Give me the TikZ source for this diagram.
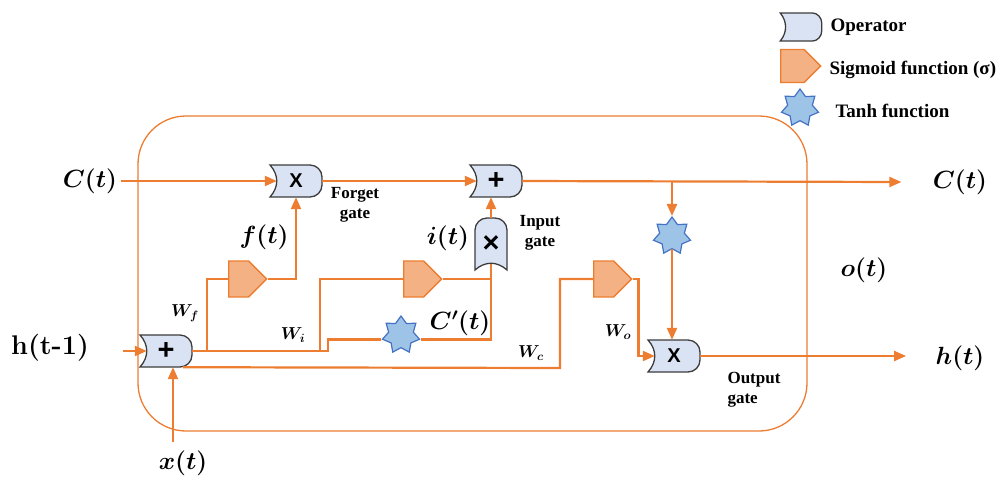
\documentclass[tikz,border=0pt]{standalone}
\usepackage{amsmath}
\usepackage{bm}
\usepackage{fontspec}
\newfontfamily\timesfont{Liberation Serif}
\newfontfamily\arialfont{Liberation Sans}
\usetikzlibrary{arrows.meta,shapes.geometric,shapes.symbols}
\definecolor{lorange}{RGB}{237,125,49}
\definecolor{sigfill}{RGB}{244,177,131}
\definecolor{opfill}{RGB}{218,227,243}
\definecolor{opdraw}{RGB}{60,60,60}
\definecolor{tanhfill}{RGB}{157,195,230}
\definecolor{tanhdraw}{RGB}{68,114,196}

% operator outline: concave back, round front
\newcommand{\opgate}[5]{%
  \begin{scope}[shift={#2},#3]
    \draw[opshape] (-26,-16) -- (14,-16) .. controls (20.6,-16) and (26,-10.6) .. (26,-4)
      -- (26,4) .. controls (26,10.6) and (20.6,16) .. (14,16) -- (-26,16)
      .. controls (-17,6) and (-17,-6) .. (-26,-16) -- cycle;
  \end{scope}
  \node[opsym,#4] (#1) at #2 {#5};}

\begin{document}
\begin{tikzpicture}[x=1pt, y=-1pt,
    line/.style={draw=lorange, line width=2.2pt},
    arr/.style={line, -{Triangle[length=12pt,width=10pt]}},
    cellbox/.style={draw=lorange, line width=1.3pt, rounded corners=48pt},
    opshape/.style={draw=opdraw, fill=opfill, line width=1.3pt},
    opsym/.style={inner sep=0pt, minimum width=52pt, minimum height=32pt,
                  font=\arialfont\bfseries\fontsize{20}{24}\selectfont},
    bigsym/.style={font=\arialfont\bfseries\fontsize{29}{30}\selectfont},
    sigbox/.style={signal, signal to=east, signal pointer angle=90, anchor=west,
                   draw=lorange, fill=sigfill, line width=1.3pt, inner sep=0pt,
                   minimum width=38pt, minimum height=36pt},
    tanhstar/.style={star, star points=7, star point ratio=1.5, inner sep=0pt,
                     minimum size=38pt, draw=tanhdraw, fill=tanhfill, line width=1.2pt},
    mlbl/.style={font=\fontsize{25}{30}\selectfont},
    wlbl/.style={font=\fontsize{18}{22}\selectfont},
    gatelbl/.style={font=\timesfont\bfseries\fontsize{17}{20}\selectfont, align=center},
    leglbl/.style={font=\timesfont\bfseries\fontsize{19}{22}\selectfont, anchor=west}]

  \useasboundingbox (0,0) rectangle (1005,480);

  % cell border
  \draw[cellbox] (138,116) rectangle (807,431);

  % operators
  \opgate{hop}{(166,351)}{}{bigsym}{+}
  \opgate{fop}{(296,181)}{}{}{X}
  \opgate{iop}{(496,181)}{}{bigsym}{+}
  \opgate{imul}{(491,244)}{rotate=90}{bigsym, minimum width=32pt, minimum height=52pt}{×}
  \opgate{oop}{(674,356)}{}{}{X}

  % sigmoid and tanh blocks
  \node[sigbox] (sf) at (228,279) {};
  \node[sigbox] (si) at (403,279) {};
  \node[sigbox] (so) at (593,279) {};
  \node[tanhstar] (tc) at (401,335) {};
  \node[tanhstar] (to) at (672,236) {};

  % labels
  \node[mlbl] (cin)  at (90,181)  {$\bm{C(t)}$};
  \node[mlbl] (cout) at (960,182) {$\bm{C(t)}$};
  \node[mlbl] (hout) at (960,358) {$\bm{h(t)}$};
  \node[mlbl] (ot)   at (864,270) {$\bm{o(t)}$};
  \node[mlbl] (xin)  at (183,463) {$\bm{x(t)}$};
  \node[mlbl] (ft)   at (264,237) {$\bm{f(t)}$};
  \node[mlbl] (it)   at (448,238) {$\bm{i(t)}$};
  \node[mlbl] (cct)  at (460,323) {$\bm{C'(t)}$};
  \node[font=\bfseries\fontsize{27}{30}\selectfont] (hin) at (50,348) {h(t-1)};
  \node[wlbl] (wf) at (185,313) {$\bm{W_f}$};
  \node[wlbl] (wi) at (293,335) {$\bm{W_i}$};
  \node[wlbl] (wc) at (531,353) {$\bm{W_c}$};
  \node[wlbl] (wo) at (618,332) {$\bm{W_o}$};
  \node[gatelbl] (fgate) at (355,205) {Forget\\gate};
  \node[gatelbl] (igate) at (540,233) {Input\\gate};
  \node[gatelbl, align=left, anchor=west] (ogate) at (724,390) {Output\\gate};

  % junctions
  \coordinate (hstart) at (123,351);
  \coordinate (xstart) at (173,442);
  \coordinate (jf) at (207,351);
  \coordinate (ji) at (320,351);
  \coordinate (jc) at (328,351);
  \coordinate (jo) at (560,368);

  % cell state
  \draw[arr] (cin.east) -- ([xshift=7pt]fop.west);
  \draw[arr] (fop.east) -- ([xshift=7pt]iop.west);
  \draw[arr] (iop.east) -- ([xshift=-28pt]cout.west);
  \draw[arr] (to.north |- iop.east) -- (to.north);
  \draw[arr] (to.south) -- (to.south |- oop.north);

  % inputs
  \draw[arr] (hstart) -- ([xshift=7pt]hop.west);
  \draw[arr] (xstart) -- ([xshift=7pt]hop.south);
  \draw[line] (hop.east) -- (jc) |- (tc.outer point 3);
  \draw[line] (jf) |- (sf.west);
  \draw[line] (ji) |- (si.west);
  \draw[line] ([xshift=17pt]hop.south) -- (jo) |- (so.west);

  % gates
  \draw[arr] (sf.east) -| (fop.south);
  \draw[line] (si.east) -| ([yshift=6pt]imul.south);
  \draw[line] (tc.outer point 6) -| ([yshift=6pt]imul.south);
  \draw[arr] (imul.north) -- (imul.north |- iop.south);
  \draw[arr] (so.east) -- ++(6,0) |- ([xshift=7pt]oop.west);
  \draw[arr] (oop.east) -- ([xshift=-26pt]hout.west |- oop.east);

  % legend
  \opgate{legop}{(801,27)}{xscale=0.8, yscale=0.88}{minimum width=42pt, minimum height=28pt}{}
  \node[sigbox, minimum width=40pt, minimum height=33pt] (legsig) at (780,66) {};
  \node[tanhstar] (legtanh) at (800,108) {};
  \node[leglbl] (legoptxt)  at (827,27)  {Operator};
  \node[leglbl] (legsigtxt) at (826,70)  {Sigmoid function (σ)};
  \node[leglbl] (legtanhtxt) at (832,111) {Tanh function};
\end{tikzpicture}
\end{document}
